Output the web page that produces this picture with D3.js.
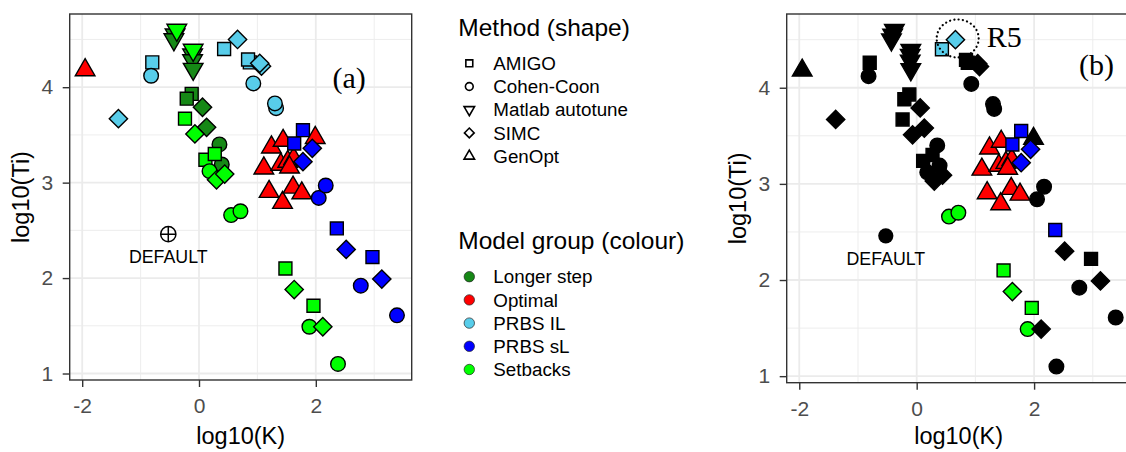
<!DOCTYPE html>
<html>
<head>
<meta charset="utf-8">
<script src="https://cdn.jsdelivr.net/npm/d3@7"></script>
<style>
  body { margin: 0; background: #fff; }
  svg { display: block; }
</style>
</head>
<body>
<svg id="chart" width="1126" height="452"></svg>
<script>
// ---- categories -------------------------------------------------------
const methods = ["AMIGO", "Cohen-Coon", "Matlab autotune", "SIMC", "GenOpt"];
const groups = ["Longer step", "Optimal", "PRBS IL", "PRBS sL", "Setbacks"];
const groupColours = ["#168816", "#FF0000", "#58CDEA", "#0000FF", "#00FF00"];

// ---- tuned controllers: one entry per point (drawing order) ------------
const pointGroup = [
  // Longer step
  "Longer step", "Longer step", "Longer step", "Longer step", "Longer step",
  "Longer step", "Longer step", "Longer step", "Longer step", "Longer step", "Longer step",
  // Optimal
  "Optimal", "Optimal", "Optimal", "Optimal", "Optimal", "Optimal", "Optimal",
  "Optimal", "Optimal", "Optimal", "Optimal", "Optimal", "Optimal",
  // PRBS IL
  "PRBS IL", "PRBS IL", "PRBS IL", "PRBS IL", "PRBS IL", "PRBS IL",
  "PRBS IL", "PRBS IL", "PRBS IL", "PRBS IL", "PRBS IL", "PRBS IL",
  // PRBS sL
  "PRBS sL", "PRBS sL", "PRBS sL", "PRBS sL", "PRBS sL", "PRBS sL",
  "PRBS sL", "PRBS sL", "PRBS sL", "PRBS sL", "PRBS sL", "PRBS sL",
  // Setbacks
  "Setbacks", "Setbacks", "Setbacks", "Setbacks", "Setbacks", "Setbacks",
  "Setbacks", "Setbacks", "Setbacks", "Setbacks", "Setbacks", "Setbacks",
  "Setbacks", "Setbacks", "Setbacks", "Setbacks", "Setbacks"
];
const pointMethod = [
  "Matlab autotune", "Matlab autotune", "Matlab autotune", "Matlab autotune", "Matlab autotune",
  "AMIGO", "AMIGO", "SIMC", "SIMC", "Cohen-Coon", "Cohen-Coon",

  "GenOpt", "GenOpt", "GenOpt", "GenOpt", "GenOpt", "GenOpt", "GenOpt",
  "GenOpt", "GenOpt", "GenOpt", "GenOpt", "GenOpt", "GenOpt",

  "AMIGO", "AMIGO", "AMIGO", "AMIGO", "Cohen-Coon", "Cohen-Coon",
  "Cohen-Coon", "Cohen-Coon", "SIMC", "SIMC", "SIMC", "SIMC",

  "AMIGO", "AMIGO", "AMIGO", "AMIGO", "SIMC", "SIMC",
  "SIMC", "SIMC", "Cohen-Coon", "Cohen-Coon", "Cohen-Coon", "Cohen-Coon",

  "Matlab autotune", "Matlab autotune",
  "AMIGO", "AMIGO", "AMIGO", "AMIGO", "AMIGO",
  "Cohen-Coon", "Cohen-Coon", "Cohen-Coon", "Cohen-Coon", "Cohen-Coon",
  "SIMC", "SIMC", "SIMC", "SIMC", "SIMC"
];
const pointLogK = [
  -0.41, -0.43, -0.11, -0.11, -0.10,
  -0.125, -0.21, 0.06, 0.13, 0.35, 0.39,

  -1.95, 1.24, 1.44, 1.99, 1.11, 1.40, 1.52,
  1.62, 1.55, 1.20, 1.43, 1.61, 1.76,

  -0.80, 0.43, 0.87, 0.84, -0.82, 0.93,
  1.32, 1.30, -1.38, 0.66, 1.07, 1.04,

  1.78, 1.63, 2.36, 2.97, 1.78, 1.94,
  2.52, 3.13, 2.05, 2.17, 2.77, 3.39,

  -0.38, -0.10,
  -0.24, 0.11, 0.27, 1.48, 1.96,
  0.18, 0.55, 0.71, 1.89, 2.38,
  -0.07, 0.30, 0.44, 1.63, 2.12
];
const pointLogTi = [
  4.55, 4.50, 4.34, 4.28, 4.19,
  3.93, 3.88, 3.79, 3.58, 3.40, 3.19,

  4.18, 3.37, 3.44, 3.47, 3.15, 3.19, 3.22,
  3.25, 3.16, 2.905, 2.79, 2.95, 2.89,

  4.26, 4.40, 4.26, 4.29, 4.12, 4.04,
  3.78, 3.83, 3.67, 4.50, 4.22, 4.25,

  3.55, 3.41, 2.52, 2.22, 3.22, 3.36,
  2.30, 1.99, 2.84, 2.97, 1.92, 1.61,

  4.60, 4.39,
  3.67, 3.24, 3.30, 2.10, 1.71,
  3.12, 2.66, 2.70, 1.49, 1.10,
  3.51, 3.03, 3.09, 1.88, 1.49
];
// 1 = keeps its group colour in panel (b), 0 = drawn black there
const pointKeptInB = [
  0, 0, 0, 0, 0,
  0, 0, 0, 0, 0, 0,

  0, 1, 1, 0, 1, 1, 1,
  1, 1, 1, 1, 1, 1,

  0, 1, 0, 0, 0, 0,
  0, 0, 0, 1, 0, 0,

  1, 1, 1, 0, 1, 1,
  0, 0, 0, 0, 0, 0,

  0, 0,
  0, 0, 0, 1, 1,
  0, 1, 1, 1, 0,
  0, 0, 0, 1, 0
];

// default controller settings
const defaultLogK = -0.526;
const defaultLogTi = 2.46;
const defaultLabel = "DEFAULT";

// axis breaks
const xMajorTicks = [-2, 0, 2];
const xMinorTicks = [-1, 1, 3];
const yMajorTicks = [1, 2, 3, 4];
const yMinorTicks = [1.5, 2.5, 3.5, 4.5];
const xDomain = [-2.214, 3.642];
const yDomain = [0.932, 4.767];

// ---- drawing ----------------------------------------------------------
const svg = d3.select("#chart");
svg.append("rect").attr("width", 1126).attr("height", 452).attr("fill", "#fff");

const SANS = "'Liberation Sans', Arial, Helvetica, sans-serif";
const SERIF = "'Liberation Serif', 'Times New Roman', serif";
const colourOf = d3.scaleOrdinal().domain(groups).range(groupColours);

// R-style point symbols (squares/diamonds/triangles share the circle's area)
function symbolPath(method, R) {
  const s = R * 0.886, d = R * 1.253;
  const tr = R * 1.555, tx = R * 1.347, ty = R * 0.778;
  switch (method) {
    case "AMIGO": return `M${-s},${-s}H${s}V${s}H${-s}Z`;
    case "Cohen-Coon": return `M${R},0A${R},${R} 0 1,1 ${-R},0A${R},${R} 0 1,1 ${R},0Z`;
    case "Matlab autotune": return `M0,${tr}L${tx},${-ty}L${-tx},${-ty}Z`;
    case "SIMC": return `M0,${-d}L${d},0L0,${d}L${-d},0Z`;
    case "GenOpt": return `M0,${-tr}L${tx},${ty}L${-tx},${ty}Z`;
  }
}

const points = pointLogK.map((k, i) => ({
  k, ti: pointLogTi[i], method: pointMethod[i], group: pointGroup[i], keep: pointKeptInB[i]
}));

function drawPanel(opt) {
  const x = d3.scaleLinear().domain(xDomain).range([opt.left, opt.right]);
  const y = d3.scaleLinear().domain(yDomain).range([opt.bottom, opt.top]);
  const g = svg.append("g");

  // grid
  const grid = g.append("g");
  grid.selectAll(".vmin").data(xMinorTicks).join("line")
    .attr("x1", d => x(d)).attr("x2", d => x(d)).attr("y1", opt.top).attr("y2", opt.bottom)
    .attr("stroke", "#EBEBEB").attr("stroke-width", 0.9);
  grid.selectAll(".hmin").data(yMinorTicks).join("line")
    .attr("y1", d => y(d)).attr("y2", d => y(d)).attr("x1", opt.left).attr("x2", opt.right)
    .attr("stroke", "#EBEBEB").attr("stroke-width", 0.9);
  grid.selectAll(".vmaj").data(xMajorTicks).join("line")
    .attr("x1", d => x(d)).attr("x2", d => x(d)).attr("y1", opt.top).attr("y2", opt.bottom)
    .attr("stroke", "#EBEBEB").attr("stroke-width", 1.8);
  grid.selectAll(".hmaj").data(yMajorTicks).join("line")
    .attr("y1", d => y(d)).attr("y2", d => y(d)).attr("x1", opt.left).attr("x2", opt.right)
    .attr("stroke", "#EBEBEB").attr("stroke-width", 1.8);

  // points
  const R = 7.3;
  g.append("g").selectAll("path").data(points).join("path")
    .attr("d", d => symbolPath(d.method, R))
    .attr("transform", d => `translate(${x(d.k)},${y(d.ti)})`)
    .attr("fill", d => opt.colour(d))
    .attr("stroke", "#000").attr("stroke-width", 1.4).attr("stroke-linejoin", "miter");

  // default setting marker and its label
  const dx = x(defaultLogK), dy = y(defaultLogTi);
  if (opt.defaultFilled) {
    g.append("circle").attr("cx", dx).attr("cy", dy).attr("r", 7.6).attr("fill", "#000");
  } else {
    g.append("circle").attr("cx", dx).attr("cy", dy).attr("r", 7.6)
      .attr("fill", "none").attr("stroke", "#000").attr("stroke-width", 1.5);
    g.append("path").attr("d", `M${dx - 7.6},${dy}H${dx + 7.6}M${dx},${dy - 7.6}V${dy + 7.6}`)
      .attr("stroke", "#000").attr("stroke-width", 1.5);
  }
  g.append("text").attr("x", dx).attr("y", dy + 29).attr("text-anchor", "middle")
    .attr("font-family", SANS).attr("font-size", 17.8).attr("fill", "#000").text(defaultLabel);

  // panel border
  g.append("rect").attr("x", opt.left).attr("y", opt.top)
    .attr("width", opt.right - opt.left).attr("height", opt.bottom - opt.top)
    .attr("fill", "none").attr("stroke", "#333").attr("stroke-width", 1.4);

  // axes
  const fmt = d => String(d);
  const ax = g.append("g").attr("transform", `translate(0,${opt.bottom})`)
    .call(d3.axisBottom(x).tickValues(xMajorTicks).tickSize(7).tickPadding(11).tickFormat(fmt));
  const ay = g.append("g").attr("transform", `translate(${opt.left},0)`)
    .call(d3.axisLeft(y).tickValues(yMajorTicks).tickSize(7).tickPadding(9.5).tickFormat(fmt));
  [ax, ay].forEach(a => {
    a.select(".domain").remove();
    a.selectAll(".tick line").attr("stroke", "#333").attr("stroke-width", 1.4);
    a.selectAll(".tick text").attr("fill", "#4D4D4D")
      .attr("font-family", SANS).attr("font-size", 21);
  });

  // axis titles
  g.append("text").attr("x", (opt.left + opt.right) / 2).attr("y", 444)
    .attr("text-anchor", "middle").attr("font-family", SANS).attr("font-size", 23.5)
    .attr("fill", "#000").text("log10(K)");
  g.append("text")
    .attr("transform", `translate(${opt.left - 40.5},${(opt.top + opt.bottom) / 2}) rotate(-90)`)
    .attr("text-anchor", "middle").attr("font-family", SANS).attr("font-size", 23.5)
    .attr("fill", "#000").text("log10(Ti)");

  // panel tag
  g.append("text").attr("x", opt.tagX).attr("y", opt.tagY)
    .attr("font-family", SERIF).attr("font-size", 30).attr("fill", "#000").text(opt.tag);

  return { x, y, g };
}

// panel (a): every point in its model-group colour
drawPanel({
  left: 69.7, right: 411.7, top: 14, bottom: 380,
  colour: d => colourOf(d.group),
  defaultFilled: false, tag: "(a)", tagX: 332.5, tagY: 88
});

// panel (b): only the selected models keep their colour
const pb = drawPanel({
  left: 786.7, right: 1130.5, top: 14, bottom: 382.7,
  colour: d => d.keep ? colourOf(d.group) : "#000",
  defaultFilled: true, tag: "(b)", tagX: 1079, tagY: 75
});

// R5 call-out around the two PRBS IL settings
const r5 = points.filter(d => d.group === "PRBS IL" && d.keep);
const r5cx = d3.mean(r5, d => pb.x(d.k)) + 9;
const r5cy = d3.mean(r5, d => pb.y(d.ti)) - 6;
pb.g.append("ellipse").attr("cx", r5cx).attr("cy", r5cy).attr("rx", 21).attr("ry", 19)
  .attr("fill", "none").attr("stroke", "#000").attr("stroke-width", 2.2)
  .attr("stroke-dasharray", "0.1,4.2").attr("stroke-linecap", "round");
pb.g.append("text").attr("x", r5cx + 29).attr("y", 46.7)
  .attr("font-family", SERIF).attr("font-size", 30).attr("fill", "#000").text("R5");

// ---- legends ----------------------------------------------------------
const leg = svg.append("g");
leg.append("text").attr("x", 458.3).attr("y", 36).attr("font-family", SANS)
  .attr("font-size", 24.5).attr("fill", "#000").text("Method (shape)");
const shapeRows = leg.selectAll(".srow").data(methods).join("g")
  .attr("transform", (d, i) => `translate(469.3,${63.3 + i * 23.2})`);
shapeRows.append("path").attr("d", d => symbolPath(d, 3.9))
  .attr("fill", "none").attr("stroke", "#000").attr("stroke-width", 1.6);
shapeRows.append("text").attr("x", 24).attr("dy", "0.36em").attr("font-family", SANS)
  .attr("font-size", 18.8).attr("fill", "#000").text(d => d);

leg.append("text").attr("x", 458.3).attr("y", 249.3).attr("font-family", SANS)
  .attr("font-size", 24.5).attr("fill", "#000").text("Model group (colour)");
const colourRows = leg.selectAll(".crow").data(groups).join("g")
  .attr("transform", (d, i) => `translate(469.3,${276.7 + i * 23.2})`);
colourRows.append("circle").attr("r", 5.2).attr("fill", d => colourOf(d))
  .attr("stroke", "#222").attr("stroke-width", 0.7);
colourRows.append("text").attr("x", 24).attr("dy", "0.36em").attr("font-family", SANS)
  .attr("font-size", 18.8).attr("fill", "#000").text(d => d);
</script>
</body>
</html>
